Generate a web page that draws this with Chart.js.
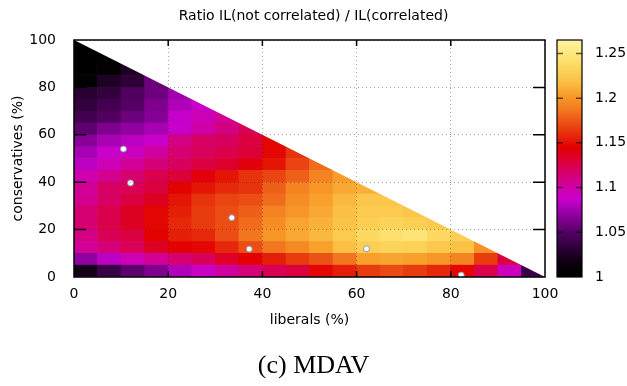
<!DOCTYPE html>
<html>
<head>
<meta charset="utf-8">
<script src="https://cdn.jsdelivr.net/npm/chart.js@4.4.1/dist/chart.umd.min.js"></script>
<style>
  html, body { margin: 0; padding: 0; background: #fff; }
</style>
</head>
<body>
<canvas id="ilRatio" width="627" height="386"></canvas>
<script>
// lower edge of each 5% bin
const liberals = [0, 5, 10, 15, 20, 25, 30, 35, 40, 45, 50, 55, 60, 65, 70, 75, 80, 85, 90, 95];
const conservatives = [0, 5, 10, 15, 20, 25, 30, 35, 40, 45, 50, 55, 60, 65, 70, 75, 80, 85, 90, 95];

// ratio per bin: one row per conservatives bin (bottom row first), liberals bins left to right
const ratio = [
  [1.020, 1.038, 1.053, 1.064, 1.080, 1.090, 1.102, 1.113, 1.122, 1.128, 1.147, 1.155, 1.165, 1.170, 1.165, 1.158, 1.147, 1.125, 1.092, 1.038],
  [1.070, 1.083, 1.095, 1.105, 1.115, 1.121, 1.135, 1.145, 1.155, 1.165, 1.173, 1.186, 1.204, 1.206, 1.204, 1.200, 1.192, 1.165, 1.128],
  [1.105, 1.113, 1.122, 1.136, 1.146, 1.147, 1.158, 1.171, 1.186, 1.195, 1.204, 1.218, 1.228, 1.232, 1.230, 1.224, 1.220, 1.198],
  [1.110, 1.122, 1.128, 1.146, 1.155, 1.158, 1.171, 1.186, 1.200, 1.208, 1.215, 1.225, 1.236, 1.242, 1.247, 1.236, 1.228],
  [1.115, 1.125, 1.136, 1.147, 1.158, 1.165, 1.171, 1.182, 1.196, 1.206, 1.212, 1.220, 1.228, 1.232, 1.228, 1.225],
  [1.115, 1.125, 1.136, 1.147, 1.155, 1.165, 1.171, 1.178, 1.192, 1.200, 1.208, 1.218, 1.225, 1.225, 1.222],
  [1.107, 1.118, 1.128, 1.136, 1.152, 1.162, 1.168, 1.171, 1.182, 1.196, 1.204, 1.215, 1.222, 1.222],
  [1.105, 1.118, 1.122, 1.128, 1.146, 1.152, 1.158, 1.162, 1.178, 1.192, 1.200, 1.208, 1.212],
  [1.097, 1.107, 1.115, 1.125, 1.130, 1.142, 1.152, 1.162, 1.168, 1.178, 1.192, 1.203],
  [1.083, 1.095, 1.105, 1.113, 1.120, 1.128, 1.133, 1.142, 1.152, 1.168, 1.182],
  [1.077, 1.088, 1.092, 1.102, 1.115, 1.121, 1.125, 1.130, 1.147, 1.162],
  [1.067, 1.077, 1.083, 1.088, 1.110, 1.118, 1.120, 1.128, 1.147],
  [1.053, 1.064, 1.070, 1.077, 1.088, 1.099, 1.110, 1.122],
  [1.042, 1.048, 1.058, 1.066, 1.086, 1.095, 1.105],
  [1.035, 1.042, 1.050, 1.064, 1.080, 1.088],
  [1.030, 1.035, 1.048, 1.058, 1.075],
  [1.005, 1.025, 1.032, 1.058],
  [1.000, 1.003, 1.025],
  [1.000, 1.002],
  [1.000]
];

// sample points (white dots)
const sampleLib = [10.5, 12.0, 33.5, 37.2, 62.1, 82.2];
const sampleCons = [54.0, 39.7, 25.0, 11.8, 11.9, 0.8];

const axisTicks = [0, 20, 40, 60, 80, 100];
const cbTicks = [1, 1.05, 1.1, 1.15, 1.2, 1.25];
const cbMin = 1;
const cbMax = 1.265;

// black - purple - magenta - red - orange - yellow
const paletteStops = [
  [1.000, [0, 0, 0]],
  [1.015, [10, 0, 12]],
  [1.030, [40, 0, 50]],
  [1.050, [85, 0, 100]],
  [1.070, [145, 0, 160]],
  [1.087, [200, 0, 205]],
  [1.105, [210, 0, 150]],
  [1.125, [218, 0, 75]],
  [1.145, [226, 0, 0]],
  [1.165, [232, 60, 15]],
  [1.185, [242, 115, 30]],
  [1.200, [247, 150, 38]],
  [1.220, [251, 195, 70]],
  [1.240, [253, 222, 105]],
  [1.265, [255, 245, 160]]
];

function ratioColor(v) {
  for (let k = 1; k < paletteStops.length; k++) {
    const [v1, c1] = paletteStops[k];
    if (v <= v1 || k === paletteStops.length - 1) {
      const [v0, c0] = paletteStops[k - 1];
      const t = Math.max(0, Math.min(1, (v - v0) / (v1 - v0)));
      return 'rgb(' + c0.map((c, n) => Math.round(c + (c1[n] - c) * t)).join(',') + ')';
    }
  }
}

Chart.defaults.font.family = 'DejaVu Sans';
Chart.defaults.font.size = 14;
Chart.defaults.color = '#000';

// one bar dataset per conservatives row
const rowSets = conservatives.map((c, j) => ({
  type: 'bar',
  data: ratio[j].map((v, i) => ({ x: liberals[i] + 2.5, y: [c, c + 5] })),
  backgroundColor: ratio[j].map(ratioColor),
  grouped: false,
  categoryPercentage: 1,
  barPercentage: 1,
  borderWidth: 0,
  order: 2
}));

// white area above the diagonal liberals + conservatives = 100
const outside = {
  type: 'line',
  data: [{ x: 0, y: 100 }, { x: 100, y: 0 }],
  fill: 'end',
  backgroundColor: '#ffffff',
  borderWidth: 0,
  pointRadius: 0,
  order: 1
};

const samples = {
  type: 'scatter',
  data: sampleLib.map((x, k) => ({ x: x, y: sampleCons[k] })),
  pointRadius: 3,
  pointBackgroundColor: '#ffffff',
  pointBorderColor: '#8a9aae',
  pointBorderWidth: 1,
  order: 0
};

// frame, inward ticks and colour box
const frame = {
  id: 'frame',
  afterDraw(chart) {
    const { ctx, chartArea: a, scales } = chart;
    const x = scales.x, y = scales.y, cb = scales.cb;
    ctx.save();

    ctx.strokeStyle = '#000';
    ctx.lineWidth = 1.5;
    ctx.beginPath();
    axisTicks.slice(1, -1).forEach(t => {
      const px = x.getPixelForValue(t);
      ctx.moveTo(px, a.bottom); ctx.lineTo(px, a.bottom - 6);
      ctx.moveTo(px, a.top); ctx.lineTo(px, a.top + 6);
      const py = y.getPixelForValue(t);
      ctx.moveTo(a.left, py); ctx.lineTo(a.left + 12, py);
      ctx.moveTo(a.right, py); ctx.lineTo(a.right - 12, py);
    });
    ctx.stroke();
    ctx.strokeRect(a.left, a.top, a.right - a.left, a.bottom - a.top);

    // colour box
    const left = a.right + 12, w = 25;
    const top = cb.getPixelForValue(cbMax), bot = cb.getPixelForValue(cbMin);
    const grad = ctx.createLinearGradient(0, bot, 0, top);
    paletteStops.forEach(([v, c]) => {
      grad.addColorStop((v - cbMin) / (cbMax - cbMin), 'rgb(' + c.join(',') + ')');
    });
    ctx.fillStyle = grad;
    ctx.fillRect(left, top, w, bot - top);

    ctx.strokeStyle = 'rgba(0,0,0,0.6)';
    ctx.beginPath();
    cbTicks.slice(1).forEach(t => {
      const py = cb.getPixelForValue(t);
      ctx.moveTo(left, py); ctx.lineTo(left + 6, py);
      ctx.moveTo(left + w, py); ctx.lineTo(left + w - 6, py);
    });
    ctx.stroke();

    ctx.strokeStyle = '#000';
    ctx.lineWidth = 1.2;
    ctx.strokeRect(left, top, w, bot - top);
    ctx.restore();
  }
};

const gridStyle = { color: 'rgba(0,0,0,0.35)', lineWidth: 1, drawTicks: false, z: 1, offset: false };

new Chart(document.getElementById('ilRatio'), {
  type: 'bar',
  data: { datasets: [...rowSets, outside, samples] },
  options: {
    responsive: false,
    animation: false,
    events: [],
    layout: { padding: 0 },
    plugins: {
      legend: { display: false },
      tooltip: { enabled: false },
      title: {
        display: true,
        text: 'Ratio IL(not correlated) / IL(correlated)',
        font: { size: 14, weight: 'normal' },
        color: '#000',
        padding: { top: 7.6, bottom: 15.6 }
      },
      subtitle: {
        display: true,
        position: 'bottom',
        text: '(c) MDAV',
        font: { family: 'Liberation Serif', size: 26, weight: 'normal' },
        color: '#000',
        padding: { top: 21.8, bottom: 4.4 }
      }
    },
    scales: {
      x: {
        type: 'linear',
        position: 'bottom',
        min: 0,
        max: 100,
        offset: false,
        ticks: { stepSize: 20, padding: 9, maxRotation: 0 },
        grid: gridStyle,
        border: { display: false, dash: [1, 3] },
        title: { display: true, text: 'liberals (%)', padding: { top: 0, bottom: 0 } }
      },
      y: {
        type: 'linear',
        position: 'left',
        min: 0,
        max: 100,
        ticks: { stepSize: 20, padding: 18 },
        grid: gridStyle,
        border: { display: false, dash: [1, 3] },
        title: { display: true, text: 'conservatives (%)', padding: { top: 9.6, bottom: 0 } },
        afterFit(s) { s.width = 74; }
      },
      cb: {
        type: 'linear',
        position: 'right',
        min: cbMin,
        max: cbMax,
        ticks: {
          stepSize: 0.05,
          includeBounds: false,
          padding: 0,
          callback: v => String(+v.toFixed(2))
        },
        // invisible tick marks only reserve room for the colour box
        grid: { display: false, drawTicks: true, tickLength: 50 },
        border: { display: false },
        afterFit(s) { s.width = 82; }
      }
    }
  },
  plugins: [frame]
});
</script>
